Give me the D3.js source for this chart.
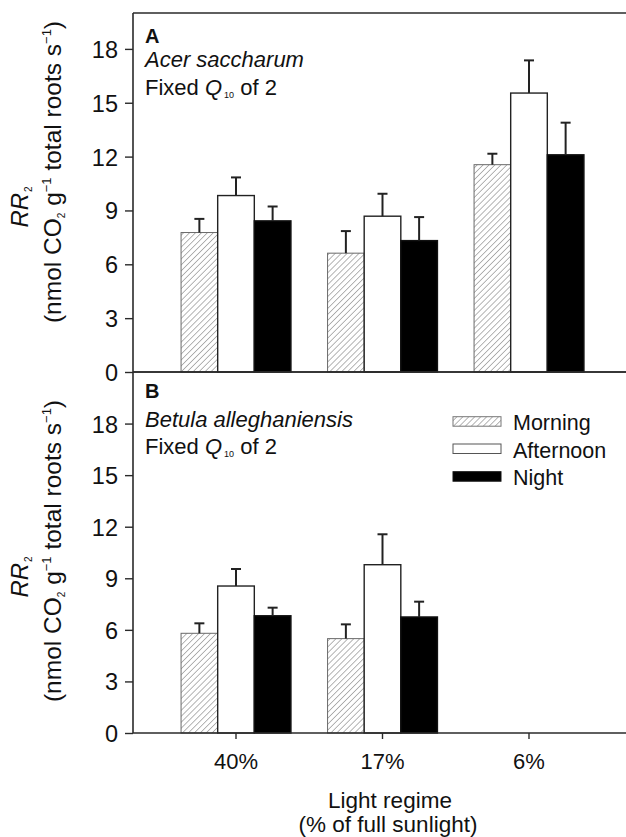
<!DOCTYPE html>
<html>
<head>
<meta charset="utf-8">
<script src="https://cdn.jsdelivr.net/npm/d3@7"></script>
<style>
  html, body { margin: 0; padding: 0; background: #fff; }
  svg { display: block; font-family: "Liberation Sans", Arial, Helvetica, sans-serif; }
</style>
</head>
<body>
<svg id="chart" width="626" height="837"></svg>
<script>
// ---------------- data ----------------
const categories = ["40%", "17%", "6%"];
const seriesNames = ["Morning", "Afternoon", "Night"];
const yTicks = [0, 3, 6, 9, 12, 15, 18];

// Panel A: Acer saccharum
const acerMorning = [7.77, 6.62, 11.55];
const acerMorningSE = [0.76, 1.23, 0.61];
const acerAfternoon = [9.83, 8.68, 15.54];
const acerAfternoonSE = [1.01, 1.25, 1.82];
const acerNight = [8.42, 7.32, 12.10];
const acerNightSE = [0.80, 1.31, 1.79];

// Panel B: Betula alleghaniensis (no 6% data)
const betulaMorning = [5.80, 5.49, null];
const betulaMorningSE = [0.58, 0.83, null];
const betulaAfternoon = [8.55, 9.79, null];
const betulaAfternoonSE = [0.99, 1.77, null];
const betulaNight = [6.82, 6.75, null];
const betulaNightSE = [0.47, 0.89, null];

// ---------------- layout ----------------
const svg = d3.select("#chart");
const FONT = "\"Liberation Sans\", Arial, Helvetica, sans-serif";
const axisColor = "#2a2a2a";
const left = 133, right = 626;

const x = d3.scaleBand().domain(categories).range([162.75, 602.25]).paddingInner(0).paddingOuter(0);
const xs = d3.scaleBand().domain(seriesNames)
  .range([x.bandwidth() * 0.125, x.bandwidth() * 0.875]).padding(0);

const panels = [
  { letter: "A", species: "Acer saccharum", top: 13, bottom: 372, ymax: 20,
    labelY1: 207, labelY2: 172, textY: [43, 67, 95],
    values: [acerMorning, acerAfternoon, acerNight],
    se: [acerMorningSE, acerAfternoonSE, acerNightSE], xticks: false },
  { letter: "B", species: "Betula alleghaniensis", top: 372, bottom: 733, ymax: 21,
    labelY1: 577, labelY2: 551, textY: [398, 427, 454],
    values: [betulaMorning, betulaAfternoon, betulaNight],
    se: [betulaMorningSE, betulaAfternoonSE, betulaNightSE], xticks: true }
];

// hatch pattern
const defs = svg.append("defs");
const pat = defs.append("pattern")
  .attr("id", "hatch").attr("patternUnits", "userSpaceOnUse")
  .attr("width", 4.2).attr("height", 4.2)
  .attr("patternTransform", "rotate(45)");
pat.append("rect").attr("width", 4.2).attr("height", 4.2).attr("fill", "#fff");
pat.append("line").attr("x1", 0).attr("y1", 0).attr("x2", 0).attr("y2", 4.2)
  .attr("stroke", "#7a7a7a").attr("stroke-width", 1.1);

const fills = ["url(#hatch)", "#ffffff", "#000000"];
const strokes = ["#6a6a6a", "#222222", "#111111"];

panels.forEach(p => {
  const y = d3.scaleLinear().domain([0, p.ymax]).range([p.bottom, p.top]);
  const g = svg.append("g");

  // bars
  p.values.forEach((vals, si) => {
    const name = seriesNames[si];
    categories.forEach((c, ci) => {
      const v = vals[ci];
      if (v == null) return;
      g.append("rect")
        .attr("x", x(c) + xs(name))
        .attr("y", y(v))
        .attr("width", xs.bandwidth())
        .attr("height", y(0) - y(v))
        .attr("fill", fills[si])
        .attr("stroke", strokes[si])
        .attr("stroke-width", si === 0 ? 1 : 1.4);
    });
  });
  // error bars (upper only)
  p.values.forEach((vals, si) => {
    const name = seriesNames[si];
    categories.forEach((c, ci) => {
      const v = vals[ci];
      if (v == null) return;
      const cx = x(c) + xs(name) + xs.bandwidth() / 2;
      const yt = y(v + p.se[si][ci]);
      g.append("line").attr("x1", cx).attr("x2", cx).attr("y1", y(v)).attr("y2", yt)
        .attr("stroke", "#222").attr("stroke-width", 2);
      g.append("line").attr("x1", cx - 5).attr("x2", cx + 5).attr("y1", yt).attr("y2", yt)
        .attr("stroke", "#222").attr("stroke-width", 2);
    });
  });

  // y axis
  const yAxis = g.append("g").attr("transform", `translate(${left},0)`)
    .call(d3.axisLeft(y).tickValues(yTicks).tickSize(8).tickPadding(7).tickSizeOuter(0));
  yAxis.select(".domain").remove();
  yAxis.selectAll(".tick line").attr("stroke", axisColor).attr("stroke-width", 1.4);
  yAxis.selectAll(".tick text").attr("font-family", FONT).attr("font-size", 23.5).attr("fill", "#111")
    .attr("dy", "0.36em");

  // frame lines
  g.append("line").attr("x1", left).attr("x2", left).attr("y1", p.top).attr("y2", p.bottom)
    .attr("stroke", axisColor).attr("stroke-width", 1.6);
  g.append("line").attr("x1", left).attr("x2", right).attr("y1", p.top).attr("y2", p.top)
    .attr("stroke", axisColor).attr("stroke-width", 1.6);
  g.append("line").attr("x1", left).attr("x2", right).attr("y1", p.bottom).attr("y2", p.bottom)
    .attr("stroke", axisColor).attr("stroke-width", 1.6);

  if (p.xticks) {
    const xa = g.append("g").attr("transform", `translate(0,${p.bottom})`)
      .call(d3.axisBottom(x).tickSize(6).tickPadding(14).tickSizeOuter(0));
    xa.select(".domain").remove();
    xa.selectAll(".tick line").attr("stroke", axisColor).attr("stroke-width", 1.4);
    xa.selectAll(".tick text").attr("font-family", FONT).attr("font-size", 22).attr("fill", "#111");
  }

  // panel annotations
  g.append("text").attr("x", 145).attr("y", p.textY[0]).attr("font-family", FONT)
    .attr("font-size", 20).attr("font-weight", "bold").attr("fill", "#111").text(p.letter);
  g.append("text").attr("x", 145).attr("y", p.textY[1]).attr("font-family", FONT)
    .attr("font-size", 22).attr("font-style", "italic").attr("fill", "#111").text(p.species);
  const fq = g.append("text").attr("x", 145).attr("y", p.textY[2]).attr("font-family", FONT)
    .attr("font-size", 22).attr("fill", "#111");
  fq.append("tspan").text("Fixed ");
  fq.append("tspan").attr("font-style", "italic").text("Q");
  fq.append("tspan").attr("font-size", 9).attr("dy", 3).attr("dx", 2).text("10");
  fq.append("tspan").attr("dy", -3).text(" of 2");

  // y axis title (two lines, rotated)
  const t1 = g.append("text").attr("transform", `translate(28,${p.labelY1}) rotate(-90)`)
    .attr("text-anchor", "middle").attr("font-family", FONT).attr("font-size", 24).attr("fill", "#111");
  t1.append("tspan").attr("font-style", "italic").text("RR");
  t1.append("tspan").attr("font-size", 10).attr("dy", 4).attr("dx", 1).text("2");

  const t2 = g.append("text").attr("transform", `translate(61,${p.labelY2}) rotate(-90)`)
    .attr("text-anchor", "middle").attr("font-family", FONT).attr("font-size", 24.5).attr("fill", "#111");
  t2.append("tspan").text("(nmol CO");
  t2.append("tspan").attr("font-size", 10).attr("dy", 4).text("2");
  t2.append("tspan").attr("dy", -4).text(" g");
  t2.append("tspan").attr("font-size", 13).attr("dy", -10).text("\u22121");
  t2.append("tspan").attr("dy", 10).text(" total roots s");
  t2.append("tspan").attr("font-size", 13).attr("dy", -10).text("\u22121");
  t2.append("tspan").attr("dy", 10).text(")");
});

// legend
const legend = svg.append("g");
const legY = [416.7, 444, 471.7];
seriesNames.forEach((name, i) => {
  legend.append("rect").attr("x", 453).attr("y", legY[i]).attr("width", 48).attr("height", 9.5)
    .attr("fill", fills[i]).attr("stroke", i === 0 ? "#777" : (i === 1 ? "#555" : "#111"))
    .attr("stroke-width", 1);
  legend.append("text").attr("x", 513).attr("y", legY[i] + 13.5).attr("font-family", FONT)
    .attr("font-size", 21.5).attr("fill", "#111").text(name);
});

// x axis title
svg.append("text").attr("x", 390).attr("y", 808).attr("text-anchor", "middle")
  .attr("font-family", FONT).attr("font-size", 22.5).attr("fill", "#111").text("Light regime");
svg.append("text").attr("x", 388).attr("y", 832).attr("text-anchor", "middle")
  .attr("font-family", FONT).attr("font-size", 22.5).attr("fill", "#111").text("(% of full sunlight)");
</script>
</body>
</html>
